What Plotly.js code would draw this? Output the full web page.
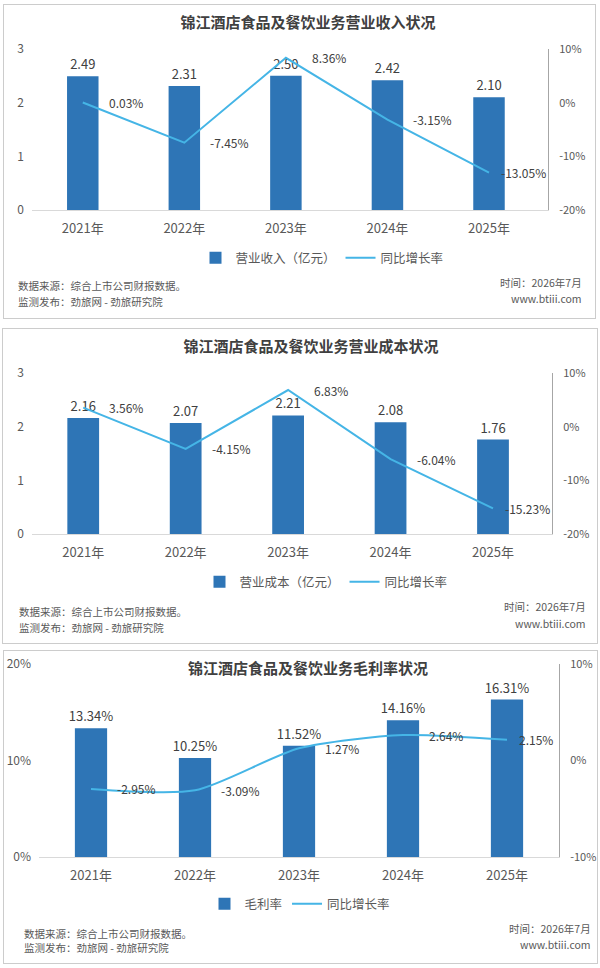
<!DOCTYPE html>
<html>
<head>
<meta charset="utf-8">
<script src="https://cdn.plot.ly/plotly-3.0.1.min.js"></script>
<style>
  body { margin: 0; background: #fff; }
  .panel { position: absolute; border: 1px solid #cccccc; background: #fff; }
</style>
</head>
<body>
<div id="p1" class="panel" style="left:3px;top:4px;width:591px;height:313px"></div>
<div id="p2" class="panel" style="left:2px;top:328px;width:594px;height:314px"></div>
<div id="p3" class="panel" style="left:3px;top:650px;width:593px;height:312px"></div>
<script>
var years = ["2021年", "2022年", "2023年", "2024年", "2025年"];

var revenue = [2.49, 2.31, 2.50, 2.42, 2.10];
var revenueYoy = [0.03, -7.45, 8.36, -3.15, -13.05];

var cost = [2.16, 2.07, 2.21, 2.08, 1.76];
var costYoy = [3.56, -4.15, 6.83, -6.04, -15.23];

var grossMargin = [13.34, 10.25, 11.52, 14.16, 16.31];
var grossMarginYoy = [-2.95, -3.09, 1.27, 2.64, 2.15];

var amountTicks = [0, 1, 2, 3];
var yoyTicksWide = [-20, -10, 0, 10];
var marginTicks = [0, 10, 20];
var yoyTicksNarrow = [-10, 0, 10];

var FONT = '"Noto Sans CJK SC", "Noto Sans", sans-serif';
var GRAY = "#595959";
var DARK = "#404040";

function pct(v) {
  return v.toFixed(2) + "%";
}

function makePanel(cfg) {
  var W = cfg.w, H = cfg.h, m = cfg.margin;
  var pw = W - m.l - m.r;
  var ph = H - m.t - m.b;
  function px(x) { return (x - m.l) / pw; }
  function py(y) { return (H - m.b - y) / ph; }

  var bar = {
    type: "bar",
    x: years,
    y: cfg.bars,
    name: cfg.barName,
    width: 0.31,
    marker: { color: "#2E75B6" },
    text: cfg.bars.map(cfg.barFmt),
    textposition: "outside",
    textfont: { size: 13, color: DARK },
    constraintext: "none",
    cliponaxis: false,
    hoverinfo: "skip",
  };
  var line = {
    type: "scatter",
    mode: "lines",
    x: years,
    y: cfg.yoy,
    yaxis: "y2",
    name: "同比增长率",
    line: { color: "#45B5E6", width: 2, shape: cfg.smooth ? "spline" : "linear", smoothing: 0.7 },
    hoverinfo: "skip",
  };

  var ann = cfg.yoy.map(function (v, i) {
    return {
      x: years[i], y: v, xref: "x", yref: "y2",
      text: pct(v), showarrow: false,
      xanchor: "left", xshift: i === years.length - 1 ? 10 : 24,
      font: { size: 12, color: DARK },
    };
  });

  var f = cfg.footer;
  function foot(text, x, y, anchor) {
    return {
      x: px(x), y: py(y), xref: "paper", yref: "paper",
      text: text, showarrow: false, xanchor: anchor, yanchor: "middle",
      font: { size: 10.5, color: GRAY },
    };
  }
  ann.push(foot("数据来源：综合上市公司财报数据。", f.lx, f.ly1, "left"));
  ann.push(foot("监测发布：劲旅网 - 劲旅研究院", f.lx, f.ly2, "left"));
  ann.push(foot("时间：2026年7月", f.rx, f.ry1, "right"));
  ann.push(foot("www.btiii.com", f.rx, f.ry2, "right"));

  var layout = {
    width: W,
    height: H,
    margin: m,
    paper_bgcolor: "#fff",
    plot_bgcolor: "#fff",
    font: { family: FONT, color: GRAY },
    title: {
      text: cfg.title,
      x: cfg.titleX / W, xref: "container", xanchor: "center",
      y: 1 - 18 / H, yref: "container", yanchor: "middle",
      font: { size: 15, color: DARK, weight: "bold" },
    },
    showlegend: true,
    legend: {
      orientation: "h",
      x: px(cfg.legendX), xanchor: "center",
      y: py(253), yanchor: "middle",
      font: { size: 12.5, color: GRAY },
      bgcolor: "rgba(0,0,0,0)",
    },
    xaxis: {
      type: "category",
      showgrid: false,
      showline: true,
      linecolor: "#d9d9d9",
      linewidth: 1,
      ticks: "",
      ticklabelstandoff: 6,
      tickfont: { size: 13, color: GRAY },
    },
    yaxis: {
      range: cfg.yRange,
      tickvals: cfg.yTicks,
      ticktext: cfg.yTicks.map(function (v) { return v + cfg.ySuffix; }),
      showgrid: false,
      zeroline: false,
      showline: false,
      ticks: "",
      ticklabelstandoff: 7,
      tickfont: { size: 12, color: GRAY },
    },
    yaxis2: {
      overlaying: "y",
      side: "right",
      range: cfg.y2Range,
      tickvals: cfg.y2Ticks,
      ticktext: cfg.y2Ticks.map(function (v) { return v + "%"; }),
      showgrid: false,
      zeroline: false,
      showline: true,
      linecolor: "#a6a6a6",
      linewidth: 1,
      ticks: "",
      ticklabelstandoff: 8,
      tickfont: { size: 11, color: GRAY },
    },
    annotations: ann,
  };

  Plotly.newPlot(cfg.id, [bar, line], layout, { displayModeBar: false, staticPlot: true });
}

makePanel({
  id: "p1", w: 591, h: 313,
  margin: { l: 28, r: 47, t: 44, b: 108 },
  title: "锦江酒店食品及餐饮业务营业收入状况",
  titleX: 304,
  barName: "营业收入（亿元）",
  bars: revenue,
  barFmt: function (v) { return v.toFixed(2); },
  yoy: revenueYoy,
  yRange: [0, 3], yTicks: amountTicks, ySuffix: "",
  y2Range: [-20, 10], y2Ticks: yoyTicksWide,
  legendX: 318,
  footer: { lx: 12, ly1: 280, ly2: 296, rx: 580, ry1: 277, ry2: 293 },
});

makePanel({
  id: "p2", w: 594, h: 314,
  margin: { l: 29, r: 45, t: 44, b: 109 },
  title: "锦江酒店食品及餐饮业务营业成本状况",
  titleX: 308,
  barName: "营业成本（亿元）",
  bars: cost,
  barFmt: function (v) { return v.toFixed(2); },
  yoy: costYoy,
  yRange: [0, 3], yTicks: amountTicks, ySuffix: "",
  y2Range: [-20, 10], y2Ticks: yoyTicksWide,
  legendX: 323,
  footer: { lx: 13.5, ly1: 282, ly2: 298, rx: 585, ry1: 277, ry2: 294 },
});

makePanel({
  id: "p3", w: 593, h: 312,
  margin: { l: 35, r: 38, t: 13, b: 106 },
  title: "锦江酒店食品及餐饮业务毛利率状况",
  titleX: 304,
  barName: "毛利率",
  bars: grossMargin,
  barFmt: pct,
  yoy: grossMarginYoy,
  smooth: true,
  yRange: [0, 20], yTicks: marginTicks, ySuffix: "%",
  y2Range: [-10, 10], y2Ticks: yoyTicksNarrow,
  legendX: 296,
  footer: { lx: 18, ly1: 282, ly2: 296, rx: 589, ry1: 277, ry2: 293 },
});
</script>
</body>
</html>
